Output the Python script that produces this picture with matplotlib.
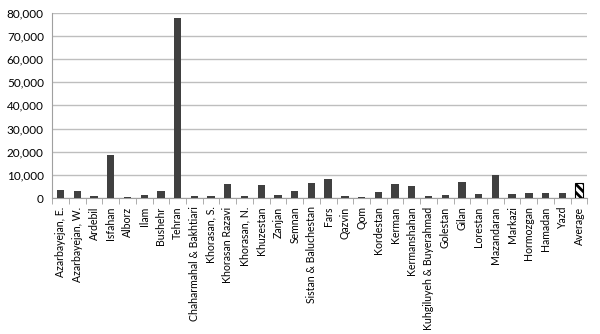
import matplotlib.pyplot as plt
from matplotlib.ticker import FuncFormatter, FixedLocator

provinces = ['Azarbayejan, E.', 'Azarbayejan, W.', 'Ardebil', 'Isfahan', 'Alborz', 'Ilam',
             'Bushehr', 'Tehran', 'Chaharmahal & Bakhtiari', 'Khorasan, S.', 'Khorasan Razavi',
             'Khorasan, N.', 'Khuzestan', 'Zanjan', 'Semnan', 'Sistan & Baluchestan', 'Fars',
             'Qazvin', 'Qom', 'Kordestan', 'Kerman', 'Kermanshahan', 'Kuhgiluyeh & Buyerahmad',
             'Golestan', 'Gilan', 'Lorestan', 'Mazandaran', 'Markazi', 'Hormozgan', 'Hamadan',
             'Yazd']
values = [3500, 3000, 1000, 18600, 500, 1300,
          3000, 77800, 1100, 700, 6100,
          700, 5600, 1300, 3000, 6700, 8300,
          900, 400, 2700, 5900, 5400, 900,
          1400, 7000, 1900, 9900, 1600, 2400, 2100,
          2400]
average_label = 'Average'
average_value = 6300

plt.rcParams['font.family'] = ['Lato', 'DejaVu Sans']
plt.rcParams['hatch.linewidth'] = 2.0

fig = plt.figure(figsize=(6.0, 3.34), dpi=100)
ax = fig.add_axes([0.087, 0.407, 0.892, 0.555])

labels = provinces + [average_label]
x = list(range(len(labels)))
ax.bar(x[:-1], values, width=0.44, color='#404040', zorder=3)
ax.bar(x[-1], average_value, width=0.44, color='white', edgecolor='black',
       hatch='\\\\\\\\', linewidth=0.8, zorder=3)

ax.set_xlim(-0.5, len(labels) - 0.5)
ax.set_ylim(0, 80000)
ax.set_yticks(range(0, 80001, 10000))
ax.yaxis.set_major_formatter(FuncFormatter(lambda v, p: f'{int(v):,}'))
ax.set_xticks(x)
ax.set_xticklabels(labels, rotation=90, fontsize=7.6)
ax.xaxis.set_minor_locator(FixedLocator([i - 0.5 for i in range(len(labels) + 1)]))
ax.tick_params(axis='x', which='major', length=0, pad=6)
ax.tick_params(axis='x', which='minor', length=4, color='#A0A0A0')
ax.tick_params(axis='y', length=0, labelsize=8.5, pad=6)

ax.grid(axis='y', color='#BEBEBE', linewidth=1, zorder=0)
for s in ['top', 'right']:
    ax.spines[s].set_visible(False)
for s in ['left', 'bottom']:
    ax.spines[s].set_color('#A0A0A0')

fig.savefig('out.png', dpi=100)
